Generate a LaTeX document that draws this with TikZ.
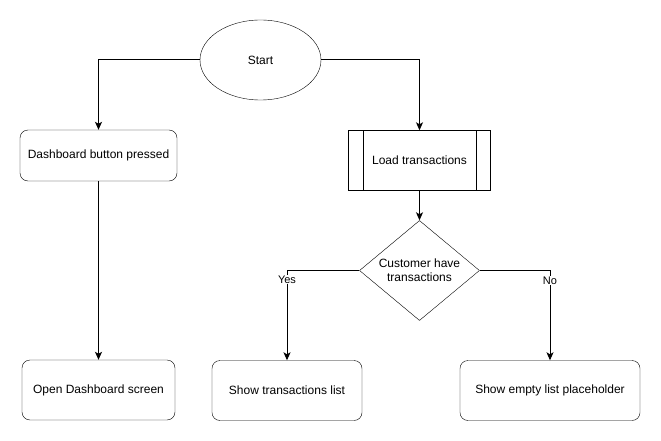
\documentclass[tikz,border=0pt]{standalone}
\usepackage{fontspec}
\setmainfont{Liberation Sans}
\usetikzlibrary{shapes.geometric,arrows.meta}

\begin{document}
\begin{tikzpicture}
    \def\dx{1pt}
    \def\dy{-1pt}

    \tikzstyle{terminal}=[draw=black,ellipse,minimum width=121pt,minimum height=80pt,inner sep=0pt,font=\fontsize{12}{14}\selectfont]
    \tikzstyle{action}=[draw=black,rounded corners=8pt,minimum height=60pt,inner sep=0pt,align=center,font=\fontsize{12}{14}\selectfont]
    \tikzstyle{process}=[draw=black,minimum width=142pt,minimum height=60pt,inner sep=0pt,font=\fontsize{12}{14}\selectfont]
    \tikzstyle{decision}=[draw=black,diamond,minimum width=120pt,minimum height=100pt,inner sep=0pt,aspect=1.2,align=center,font=\fontsize{12}{14}\selectfont]
    \tikzstyle{answer}=[fill=white,inner sep=1pt,font=\fontsize{11}{13}\selectfont]

    \useasboundingbox (0*\dx,0*\dy) rectangle (661*\dx,441*\dy);

    \node[terminal]  (start) at (260.5*\dx,60*\dy) {Start};
    \node[action,minimum width=157pt,minimum height=51pt]  (pressed) at (98.5*\dx,155.5*\dy) {Dashboard button pressed};
    \node[process]  (load) at (419.5*\dx,160.5*\dy) {Load transactions};
    \node[decision]  (have) at (419.5*\dx,270.5*\dy) {Customer have\\transactions};
    \node[action,minimum width=153pt]  (open) at (98.5*\dx,390*\dy) {Open Dashboard screen};
    \node[action,minimum width=150pt]  (list) at (287*\dx,390.5*\dy) {Show transactions list};
    \node[action,minimum width=180pt]  (empty) at (550*\dx,390.5*\dy) {Show empty list placeholder};

    \draw ([xshift=15pt]load.north west) -- ([xshift=15pt]load.south west);
    \draw ([xshift=-15pt]load.north east) -- ([xshift=-15pt]load.south east);

    \pgfsetarrowsend{Stealth[length=8pt,width=7pt,inset=2pt]}
    \tikzstyle{fwd} = [draw=black, line width=1pt]

          \draw [fwd] (start) -| (pressed);
          \draw [fwd] (start) -| (load);
          \draw [fwd] (pressed) -- (open);
          \draw [fwd] (load) -- (have);
          \draw [fwd] (have) -| node[answer,pos=0.55] {Yes} (list);
          \draw [fwd] (have) -| node[answer,pos=0.555] {No} (empty);

  \end{tikzpicture}
\end{document}
